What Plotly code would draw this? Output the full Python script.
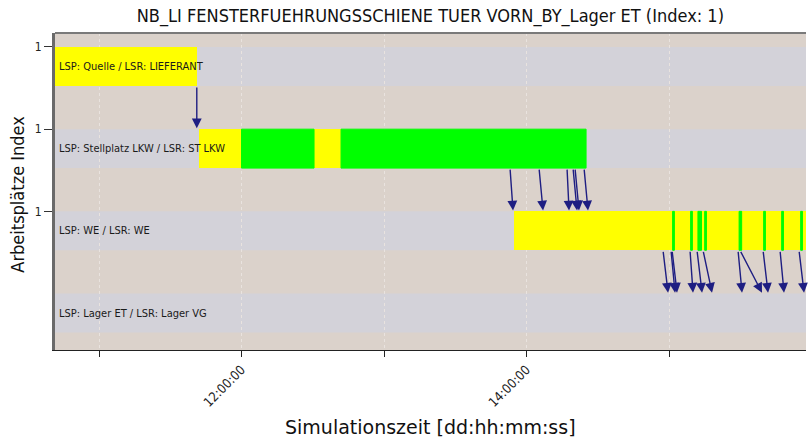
import pandas as pd
import plotly.graph_objects as go

DAY = "2024-01-01 "

# ---- data ----
row_labels = [
    "LSP: Quelle / LSR: LIEFERANT",
    "LSP: Stellplatz LKW / LSR: ST LKW",
    "LSP: WE / LSR: WE",
    "LSP: Lager ET / LSR: Lager VG",
]
row_ids = [0, 1, 2, 3]

# status segments (row, start, end, state)
seg_rows = [0, 1, 1, 1, 1, 2,
            2, 2, 2, 2, 2, 2, 2, 2]
seg_start = ["10:41:28", "11:42:07", "12:00:00", "12:30:32", "12:41:54", "13:54:43",
             "15:01:30", "15:09:05", "15:12:10", "15:15:00", "15:29:30", "15:39:50", "15:47:25", "15:55:25"]
seg_end = ["11:41:16", "12:00:00", "12:30:32", "12:41:54", "14:25:04", "15:57:40",
           "15:02:15", "15:09:50", "15:13:40", "15:15:45", "15:30:35", "15:40:35", "15:48:10", "15:56:10"]
seg_state = ["wait", "wait", "busy", "wait", "busy", "wait",
             "busy", "busy", "busy", "busy", "busy", "busy", "busy", "busy"]

# transfer arrows (from row, to row = from + 1, departure, arrival)
arr_from = [0, 1, 1, 1, 1, 1, 1,
            2, 2, 2, 2, 2, 2, 2, 2, 2, 2, 2]
arr_start = ["11:41:10", "13:53:03", "14:05:16", "14:17:03", "14:19:35", "14:20:25", "14:24:13",
             "14:57:28", "15:00:50", "15:01:16", "15:08:50", "15:11:47", "15:14:19",
             "15:29:03", "15:29:53", "15:39:35", "15:46:44", "15:54:44"]
arr_end = ["11:41:10", "13:54:19", "14:06:57", "14:17:54", "14:21:16", "14:22:06", "14:25:53",
           "14:59:35", "15:02:32", "15:03:22", "15:10:06", "15:13:54", "15:18:06",
           "15:30:44", "15:39:09", "15:41:41", "15:48:25", "15:56:51"]

tick_hours = ["11:00:00", "12:00:00", "13:00:00", "14:00:00", "15:00:00"]
tick_text = ["", "12:00:00", "", "14:00:00", ""]
y_tick_text = ["1", "1", "1"]

x_range = ["10:41:28", "15:57:40"]

title_text = "NB_LI FENSTERFUEHRUNGSSCHIENE TUER VORN_BY_Lager ET (Index: 1)"
x_title = "Simulationszeit [dd:hh:mm:ss]"
y_title = "Arbeitsplätze Index"

# ---- styling ----
state_color = {"wait": "#FFFF00", "busy": "#00FF00"}
state_line = {"wait": 0, "busy": 1}
HALF = 0.237
COND = "DejaVu Sans Condensed, Liberation Sans Narrow, DejaVu Sans, sans-serif"
REG = "DejaVu Sans, Verdana, sans-serif"

fig = go.Figure()

for st in ["wait", "busy"]:
    idx = [i for i, s in enumerate(seg_state) if s == st]
    starts = [pd.Timestamp(DAY + seg_start[i]) for i in idx]
    ends = [pd.Timestamp(DAY + seg_end[i]) for i in idx]
    fig.add_trace(go.Bar(
        orientation="h",
        y=[seg_rows[i] for i in idx],
        base=[s.strftime("%Y-%m-%d %H:%M:%S") for s in starts],
        x=[(e - s).total_seconds() * 1000 for s, e in zip(starts, ends)],
        width=2 * HALF,
        marker=dict(color=state_color[st],
                    line=dict(width=state_line[st], color=state_color[st])),
        showlegend=False,
        hoverinfo="skip",
    ))

shapes = []
for r in row_ids:
    shapes.append(dict(type="rect", xref="paper", x0=0, x1=1, yref="y",
                       y0=r - HALF, y1=r + HALF, fillcolor="#D3D2D9",
                       line=dict(width=0), layer="between"))
shapes.append(dict(type="line", xref="paper", x0=0, x1=1, yref="paper", y0=1, y1=1,
                   line=dict(color="#7a7a7a", width=2)))

annotations = []
for r, lab in zip(row_ids, row_labels):
    annotations.append(dict(xref="paper", x=0, xshift=2, xanchor="left", yref="y", y=r,
                            text=lab, showarrow=False,
                            font=dict(family=COND, size=11, color="#1a1a1a")))

for fr, s, e in zip(arr_from, arr_start, arr_end):
    annotations.append(dict(
        xref="x", yref="y", axref="x", ayref="y",
        x=DAY + e, y=fr + 1 - HALF - 0.01,
        ax=DAY + s, ay=fr + HALF,
        showarrow=True, arrowhead=2, arrowsize=1.4, arrowwidth=1.4,
        arrowcolor="#1E1E82", standoff=0, startstandoff=0, text=""))

annotations.append(dict(xref="paper", yref="paper", x=0, xshift=-37, y=0.49,
                        text=y_title, textangle=-90, showarrow=False,
                        xanchor="center", yanchor="middle",
                        font=dict(family=COND, size=18, color="#111")))
annotations.append(dict(xref="paper", yref="paper", x=0.5, y=0, yshift=-77,
                        text=x_title, showarrow=False,
                        xanchor="center", yanchor="middle",
                        font=dict(family=REG, size=19, color="#111")))

fig.update_layout(
    width=812, height=442,
    margin=dict(l=55, r=6, t=33, b=92, autoexpand=False),
    paper_bgcolor="white",
    plot_bgcolor="#DBD2CB",
    barmode="overlay",
    bargap=0,
    title=dict(text=title_text,
               x=0.53, xanchor="center", y=0.964, yanchor="middle",
               font=dict(family=COND, size=18, color="#111")),
    shapes=shapes,
    annotations=annotations,
    xaxis=dict(
        type="date",
        automargin=False,
        range=[DAY + x_range[0], DAY + x_range[1]],
        tickvals=[DAY + t for t in tick_hours],
        ticktext=tick_text,
        tickangle=-45,
        ticks="outside", ticklen=6, tickcolor="#222",
        showline=True, linecolor="#222", linewidth=1,
        showgrid=True, gridcolor="#E9E3DF", griddash="dot", gridwidth=1,
        zeroline=False,
        tickfont=dict(family=COND, size=13, color="#222"),
    ),
    yaxis=dict(
        automargin=False,
        range=[3.45, -0.407],
        tickvals=[r - HALF for r in row_ids[:3]],
        ticktext=y_tick_text,
        ticks="outside", ticklen=8, tickcolor="#333",
        showline=True, linecolor="#6a6a6a", linewidth=3,
        showgrid=False, zeroline=False,
        tickfont=dict(family=COND, size=12, color="#222"),
    ),
)

fig.write_html("out.html",
               config={"displayModeBar": False, "staticPlot": True},
               post_script="document.body.style.margin='0';document.body.style.overflow='hidden';")
